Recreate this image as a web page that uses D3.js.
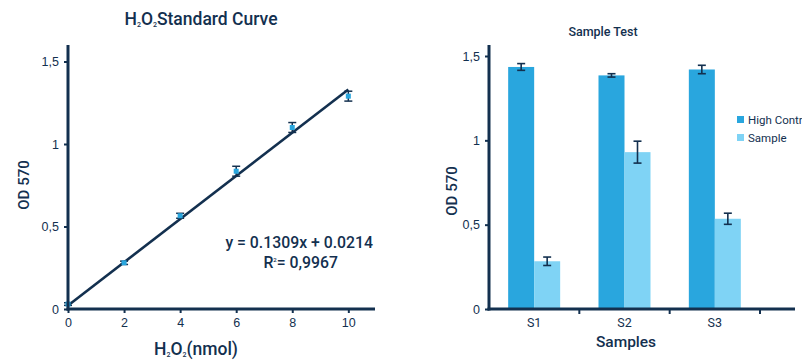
<!DOCTYPE html>
<html>
<head>
<meta charset="utf-8">
<script src="https://cdn.jsdelivr.net/npm/d3@7"></script>
<style>
  body { margin: 0; background: #fff; }
  svg { font-family: Roboto, "Noto Sans", sans-serif; }
</style>
</head>
<body>
<svg id="chart" width="802" height="360"></svg>
<script>
// standard curve data
const stdX = [0, 2, 4, 6, 8, 10];
const stdY = [0.03, 0.28, 0.565, 0.835, 1.10, 1.29];
const stdErr = [0.008, 0.01, 0.015, 0.03, 0.03, 0.03];
const slope = 0.1309;
const intercept = 0.0214;

// sample test data
const samples = ['S1', 'S2', 'S3'];
const seriesNames = ['High Control', 'Sample'];
const highValues = [1.435, 1.385, 1.42];
const highErr = [0.02, 0.01, 0.025];
const sampleValues = [0.283, 0.93, 0.535];
const sampleErr = [0.025, 0.065, 0.033];

const yTicks = [0, 0.5, 1, 1.5];
const xTicksStd = [0, 2, 4, 6, 8, 10];

const navy = '#13304f';
const blueDark = '#29a6de';
const blueLight = '#7fd3f5';
const fmt = d => String(d).replace('.', ',');

const svg = d3.select('#chart');

// H2O2 with small subscripts, then some trailing text
function chem(sel, tail, size) {
  const sub = (size * 0.4) + 'px';
  sel.append('tspan').text('H');
  sel.append('tspan').text('2').style('font-size', sub).attr('dy', 2);
  sel.append('tspan').text('O').attr('dy', -2);
  sel.append('tspan').text('2').style('font-size', sub).attr('dy', 2);
  sel.append('tspan').text(tail).attr('dy', -2);
}

// ---------- left chart ----------
const L = svg.append('g');
const x1 = d3.scaleLinear().domain([0, 12.2]).range([68, 410]);
const y1 = d3.scaleLinear().domain([0, 1.6]).range([309, 45]);

// fit line
L.append('line')
  .attr('x1', x1(0)).attr('y1', y1(intercept))
  .attr('x2', x1(10)).attr('y2', y1(slope * 10 + intercept))
  .attr('stroke', navy).attr('stroke-width', 2.6);

// error bars
stdX.forEach((xv, i) => {
  const cx = x1(xv);
  const lo = y1(stdY[i] - stdErr[i]), hi = y1(stdY[i] + stdErr[i]);
  L.append('line').attr('x1', cx).attr('x2', cx).attr('y1', lo).attr('y2', hi)
    .attr('stroke', navy).attr('stroke-width', 1.5);
  [lo, hi].forEach(yy => L.append('line').attr('x1', cx - 4).attr('x2', cx + 4)
    .attr('y1', yy).attr('y2', yy).attr('stroke', navy).attr('stroke-width', 1.5));
});

// markers
L.selectAll('rect.pt').data(stdX).enter().append('rect')
  .attr('class', 'pt')
  .attr('x', d => x1(d) - 2.5)
  .attr('y', (d, i) => y1(stdY[i]) - 2.5)
  .attr('width', 5).attr('height', 5)
  .attr('fill', blueDark);

// axes
const yAx1 = L.append('g').attr('transform', 'translate(68,0)')
  .call(d3.axisLeft(y1).tickValues(yTicks).tickFormat(fmt).tickSize(4).tickPadding(5));
const xAx1 = L.append('g').attr('transform', 'translate(0,309)')
  .call(d3.axisBottom(x1).tickValues(xTicksStd).tickSize(4).tickPadding(5));
[yAx1, xAx1].forEach(a => {
  a.select('.domain').remove();
  a.selectAll('.tick line').attr('stroke', navy).attr('stroke-width', 2);
  a.selectAll('.tick text').attr('fill', navy).style('font-size', '12.5px');
});
L.append('line').attr('x1', 68).attr('x2', 68).attr('y1', 45).attr('y2', 310.5)
  .attr('stroke', navy).attr('stroke-width', 3);
L.append('line').attr('x1', 66.5).attr('x2', 375).attr('y1', 309).attr('y2', 309)
  .attr('stroke', navy).attr('stroke-width', 3);

// title
const t1 = L.append('text').attr('x', 201).attr('y', 25).attr('text-anchor', 'middle')
  .attr('fill', navy).style('font-size', '17.5px').style('font-weight', 500);
chem(t1, 'Standard Curve', 17.5);

// x label
const xl1 = L.append('text').attr('x', 196).attr('y', 355).attr('text-anchor', 'middle')
  .attr('fill', navy).style('font-size', '17.5px').style('font-weight', 500);
chem(xl1, '(nmol)', 17.5);

// y label
L.append('text').attr('transform', 'translate(29,185) rotate(-90)')
  .attr('text-anchor', 'middle').attr('fill', navy)
  .style('font-size', '15px').style('font-weight', 500).text('OD 570');

// equation
L.append('text').attr('x', 373).attr('y', 248).attr('text-anchor', 'end')
  .attr('fill', navy).style('font-size', '15.8px').style('font-weight', 500)
  .text(`y = ${slope}x + ${intercept}`);
const r2 = L.append('text').attr('x', 338).attr('y', 268).attr('text-anchor', 'end')
  .attr('fill', navy).style('font-size', '15.8px').style('font-weight', 500);
r2.append('tspan').text('R');
r2.append('tspan').text('2').style('font-size', '6px').attr('dy', -6);
r2.append('tspan').text('= 0,9967').attr('dy', 6);

// ---------- right chart ----------
const R = svg.append('g');
const x0 = d3.scaleBand().domain(samples).range([489, 760]).paddingInner(0).paddingOuter(0);
const xs = d3.scaleBand().domain(seriesNames).range([0, 52]);
const y2 = d3.scaleLinear().domain([0, 1.5]).range([309, 56]);
const colors = d3.scaleOrdinal().domain(seriesNames).range([blueDark, blueLight]);

const groups = samples.map((s, i) => ({
  s, vals: [
    { key: seriesNames[0], v: highValues[i], e: highErr[i] },
    { key: seriesNames[1], v: sampleValues[i], e: sampleErr[i] }
  ]
}));

const gg = R.selectAll('g.grp').data(groups).enter().append('g')
  .attr('transform', d => `translate(${x0(d.s) + x0.bandwidth() / 2 - 26},0)`);

gg.selectAll('rect').data(d => d.vals).enter().append('rect')
  .attr('x', d => xs(d.key))
  .attr('y', d => y2(d.v))
  .attr('width', xs.bandwidth())
  .attr('height', d => y2(0) - y2(d.v))
  .attr('fill', d => colors(d.key));

gg.each(function (d) {
  const g = d3.select(this);
  d.vals.forEach(b => {
    const cx = xs(b.key) + xs.bandwidth() / 2;
    const lo = y2(b.v - b.e), hi = y2(b.v + b.e);
    g.append('line').attr('x1', cx).attr('x2', cx).attr('y1', lo).attr('y2', hi)
      .attr('stroke', navy).attr('stroke-width', 1.6);
    [lo, hi].forEach(yy => g.append('line').attr('x1', cx - 4).attr('x2', cx + 4)
      .attr('y1', yy).attr('y2', yy).attr('stroke', navy).attr('stroke-width', 1.6));
  });
});

const yAx2 = R.append('g').attr('transform', 'translate(489,0)')
  .call(d3.axisLeft(y2).tickValues(yTicks).tickFormat(fmt).tickSize(4).tickPadding(5));
yAx2.select('.domain').remove();
yAx2.selectAll('.tick line').attr('stroke', navy).attr('stroke-width', 2);
yAx2.selectAll('.tick text').attr('fill', navy).style('font-size', '12.5px');

R.append('line').attr('x1', 489).attr('x2', 489).attr('y1', 45).attr('y2', 310.5)
  .attr('stroke', navy).attr('stroke-width', 3);
R.append('line').attr('x1', 487.5).attr('x2', 795).attr('y1', 309).attr('y2', 309)
  .attr('stroke', navy).attr('stroke-width', 3);

// ticks at band edges
R.selectAll('line.sep').data(samples).enter().append('line')
  .attr('x1', d => x0(d) + x0.bandwidth()).attr('x2', d => x0(d) + x0.bandwidth())
  .attr('y1', 309).attr('y2', 314).attr('stroke', navy).attr('stroke-width', 2);

R.selectAll('text.cat').data(samples).enter().append('text')
  .attr('x', d => x0(d) + x0.bandwidth() / 2).attr('y', 327)
  .attr('text-anchor', 'middle').attr('fill', navy).style('font-size', '12.5px')
  .text(d => d);

R.append('text').attr('x', 603).attr('y', 36).attr('text-anchor', 'middle')
  .attr('fill', navy).style('font-size', '12.5px').style('font-weight', 500).text('Sample Test');
R.append('text').attr('x', 626).attr('y', 347).attr('text-anchor', 'middle')
  .attr('fill', navy).style('font-size', '15.5px').style('font-weight', 500).text('Samples');
R.append('text').attr('transform', 'translate(457,191) rotate(-90)')
  .attr('text-anchor', 'middle').attr('fill', navy)
  .style('font-size', '15px').style('font-weight', 500).text('OD 570');

// legend (the reference crops the first label at the right edge)
const lg = R.selectAll('g.legend').data(seriesNames).enter().append('g')
  .attr('transform', (d, i) => `translate(737,${116 + i * 18})`);
lg.append('rect').attr('width', 7).attr('height', 7).attr('fill', d => colors(d));
lg.append('text').attr('x', 11).attr('y', 7.5).attr('fill', navy)
  .style('font-size', '11.5px').text(d => d);
</script>
</body>
</html>
